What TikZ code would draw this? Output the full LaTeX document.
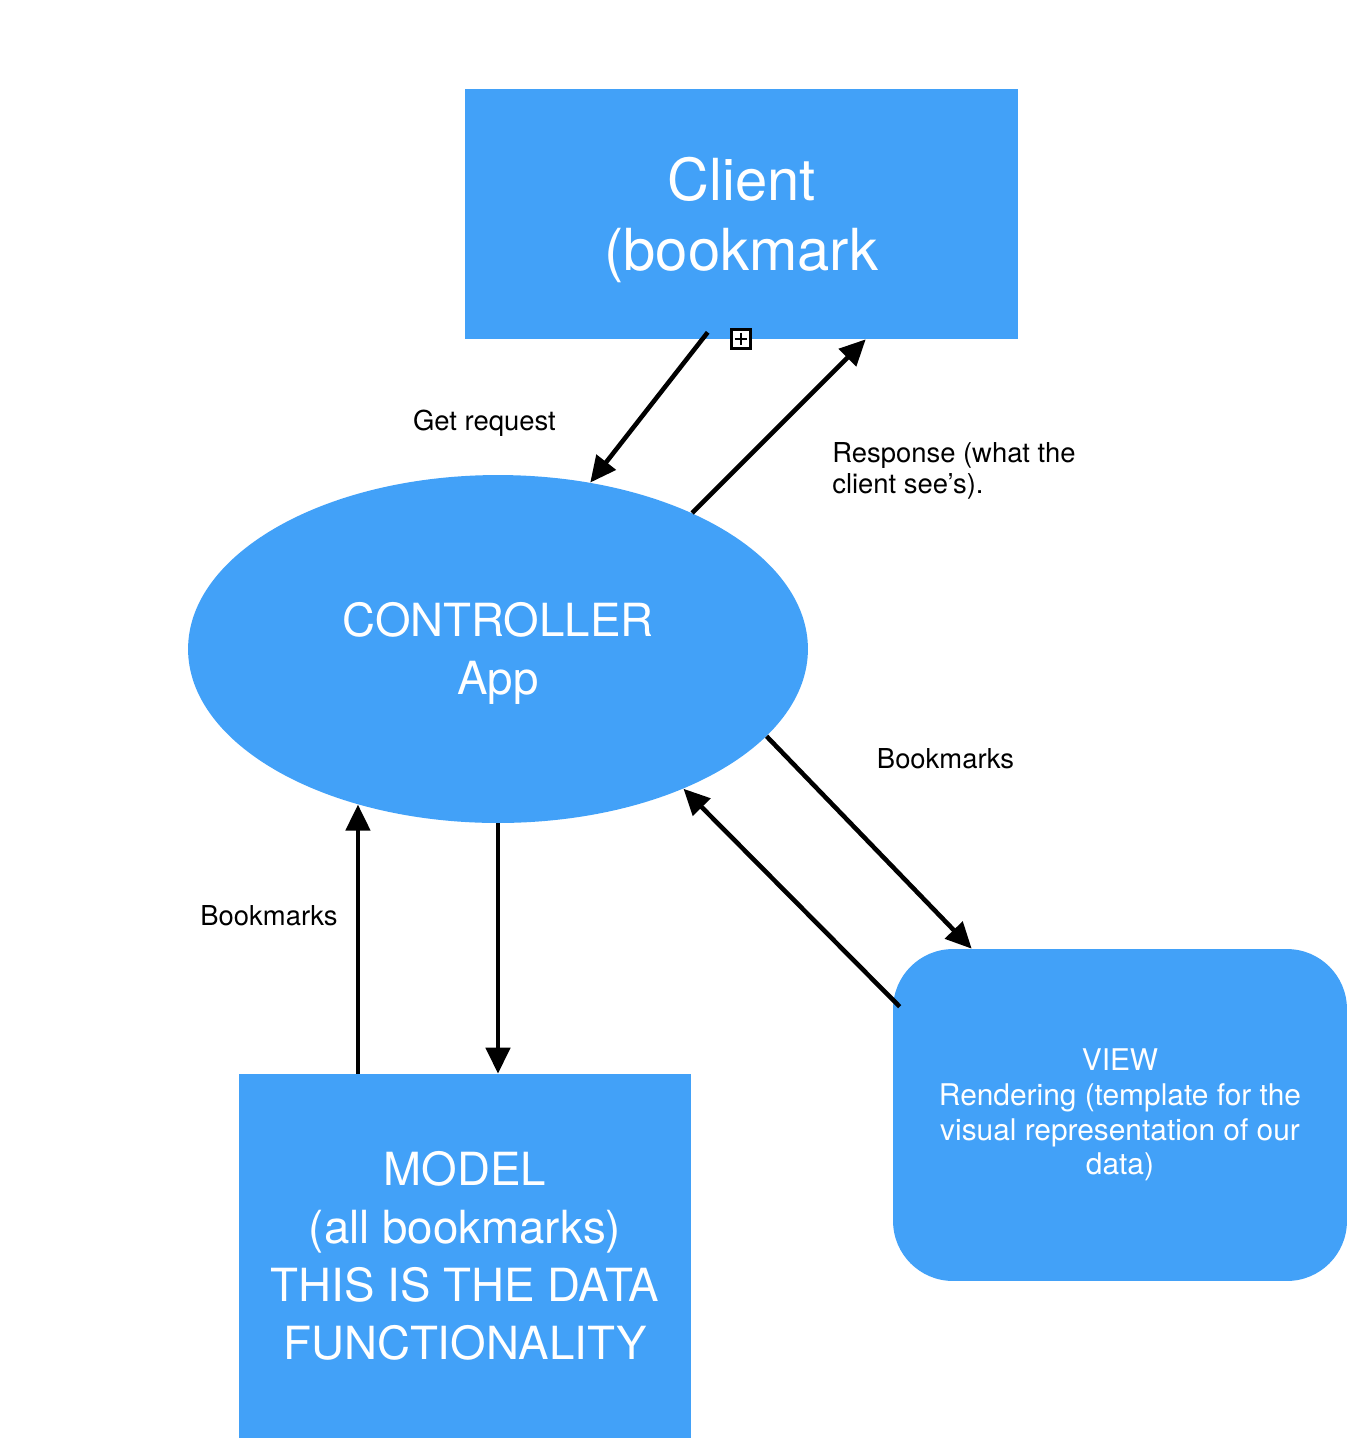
\documentclass[tikz,border=0pt]{standalone}
\usepackage{fontspec}
\setmainfont{TeX Gyre Heros}
\usetikzlibrary{shapes.geometric,arrows.meta,calc}
\definecolor{keyblue}{RGB}{66,161,248}
\tikzset{
  box/.style={fill=keyblue,text=white,align=center,inner sep=0pt},
  oval/.style={ellipse,fill=keyblue,text=white,align=center,inner sep=0pt},
  arr/.style={line width=2.6pt,-{Triangle[length=0.52cm,width=0.48cm]}},
  lbl/.style={font=\fontsize{15.6}{17.6}\selectfont,align=left,inner sep=0pt}
}
\begin{document}
\begin{tikzpicture}[x=0.02cm,y=-0.02cm]
	\useasboundingbox (0,0) rectangle (1366,1438);
	% the four parts
	\node[box,minimum width=11.06cm,minimum height=5cm,font=\fontsize{33}{40}\selectfont] (client) at (741.5,214) {\rule{0pt}{0.95em}Client\\(bookmark};
	\node[oval,minimum width=12.4cm,minimum height=6.96cm,font=\fontsize{26}{33}\selectfont] (ctrl) at (498,649) {\rule{0pt}{0.95em}CONTROLLER\\App};
	\node[box,minimum width=9.04cm,minimum height=7.28cm,font=\fontsize{26}{33}\selectfont] (model) at (465,1256) {MODEL\\(all bookmarks)\\THIS IS THE DATA\\FUNCTIONALITY};
	\node[box,rounded corners=1.2cm,minimum width=9.08cm,minimum height=6.64cm,font=\fontsize{17}{19.8}\selectfont] (view) at (1120,1115) {VIEW\\Rendering (template for the\\visual representation of our\\data)};
	% arrows
	\draw[arr] ($(client.south west)+(243,-7)$) -- (ctrl.61);
	\draw[arr] (ctrl.35) -- ($(client.south west)+(401,0)$);
	\draw[arr] (ctrl.-18) -- ($(view.north west)+(79,0)$);
	\draw[arr] ($(view.north west)+(7,58)$) -- (ctrl.-37);
	\draw[arr] (ctrl.-132 |- model.north) -- (ctrl.-132);
	\draw[arr] (ctrl.south) -- (ctrl.south |- model.north);
	% labels
	\node[lbl] (getlbl) at (484.5,423) {Get request};
	\node[lbl,anchor=west] (resplbl) at (832,471) {Response (what the\\client see’s).};
	\node[lbl] (bmright) at (945.5,759) {Bookmarks};
	\node[lbl] (bmleft) at (269,916) {Bookmarks};
	% overflow marker
	\node[draw,line width=1.2pt,fill=white,minimum size=0.38cm,inner sep=0pt] (more) at (741,339) {};
	\draw[line width=0.9pt] ($(more.north)!0.2!(more.south)$) -- ($(more.north)!0.8!(more.south)$)
		($(more.west)!0.2!(more.east)$) -- ($(more.west)!0.8!(more.east)$);
\end{tikzpicture}
\end{document}
